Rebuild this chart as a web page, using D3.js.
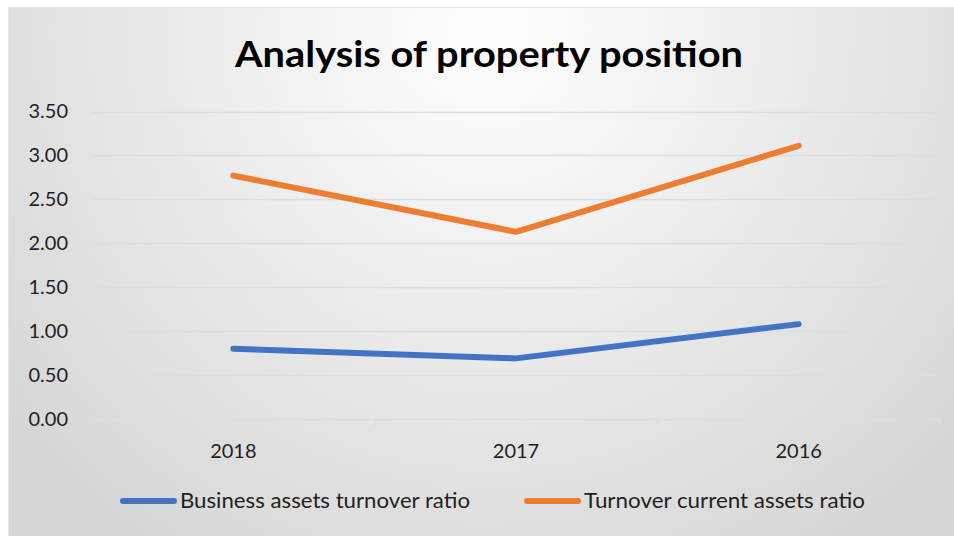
<!DOCTYPE html>
<html><head><meta charset="utf-8">
<script src="https://cdn.jsdelivr.net/npm/d3@7"></script>
<style>html,body{margin:0;padding:0;background:#fff;overflow:hidden}</style>
</head><body>
<svg id="c" width="954" height="536"></svg>
<script>
const title = "Analysis of property position";
const categories = ["2018", "2017", "2016"];
const seriesNames = ["Business assets turnover ratio", "Turnover current assets ratio"];
const businessAssets = [0.80, 0.69, 1.08];
const currentAssets = [2.77, 2.13, 3.11];
const yTicks = [0, 0.5, 1, 1.5, 2, 2.5, 3, 3.5];
const colors = ["#4472c4", "#ed7d31"];

const svg = d3.select("#c");
const W = 954, H = 536;
const font = "Lato, 'Open Sans', sans-serif";

const defs = svg.append("defs");
const rg = defs.append("radialGradient").attr("id", "bg")
  .attr("gradientUnits", "userSpaceOnUse")
  .attr("cx", 490).attr("cy", 30).attr("r", 620);
rg.append("stop").attr("offset", "0%").attr("stop-color", "#ffffff");
rg.append("stop").attr("offset", "100%").attr("stop-color", "#d6d6d6");

svg.append("rect").attr("x", 8.5).attr("y", 7.5).attr("width", W - 8).attr("height", H - 7)
  .attr("fill", "url(#bg)").attr("stroke", "#e4e8ee").attr("stroke-width", 1);

svg.append("text").attr("x", 489).attr("y", 67).attr("text-anchor", "middle")
  .attr("font-family", font).attr("font-weight", "bold").attr("font-size", 36)
  .attr("fill", "#000").attr("textLength", 508).attr("lengthAdjust", "spacingAndGlyphs")
  .text(title);

const x = d3.scaleBand().domain(categories).range([92, 940]);
const y = d3.scaleLinear().domain([0, 3.5]).range([419, 111.5]);

// gridlines
const grid = svg.append("g");
grid.selectAll("line").data(yTicks.filter(d => d > 0)).join("line")
  .attr("x1", 92).attr("x2", 940)
  .attr("y1", d => Math.round(y(d)) + 0.5).attr("y2", d => Math.round(y(d)) + 0.5)
  .attr("stroke", "#d8dee7").attr("stroke-width", 1.5);

// y axis labels
const yAxis = d3.axisLeft(y).tickValues(yTicks).tickFormat(d3.format(".2f")).tickSize(0).tickPadding(0);
const gy = svg.append("g").attr("transform", "translate(68,0)").call(yAxis);
gy.select(".domain").remove();
gy.selectAll("text").attr("font-family", font).attr("font-size", 20).attr("fill", "#1f1f1f");

// x axis
const xAxis = d3.axisBottom(x).tickSize(0).tickPadding(0);
const gx = svg.append("g").attr("transform", `translate(0,${Math.round(y(0)) + 0.5})`).call(xAxis);
gx.select(".domain").attr("stroke", "#d8dee7").attr("stroke-width", 1.5)
  .attr("d", `M92,7V0H940V7`);
gx.selectAll("text").attr("dy", 0).attr("y", 38)
  .attr("font-family", font).attr("font-size", 20).attr("fill", "#1f1f1f");
const bounds = x.domain().map(d => x(d)).slice(1);
gx.selectAll("line.bt").data(bounds).join("line").attr("class", "bt")
  .attr("x1", d => d).attr("x2", d => d).attr("y1", 0).attr("y2", 7)
  .attr("stroke", "#d8dee7").attr("stroke-width", 1.5);

// lines
const line = d3.line().x((d, i) => x(categories[i]) + x.bandwidth() / 2).y(d => y(d));
[businessAssets, currentAssets].forEach((s, i) => {
  svg.append("path").datum(s).attr("d", line).attr("fill", "none")
    .attr("stroke", colors[i]).attr("stroke-width", 6)
    .attr("stroke-linecap", "round").attr("stroke-linejoin", "round");
});

// legend
const legendItems = [{x: 120, tx: 180, w: 290}, {x: 524, tx: 584, w: 281}];
seriesNames.forEach((n, i) => {
  const it = legendItems[i];
  svg.append("line").attr("x1", it.x + 3).attr("x2", it.x + 54).attr("y1", 501).attr("y2", 501)
    .attr("stroke", colors[i]).attr("stroke-width", 6).attr("stroke-linecap", "round");
  svg.append("text").attr("x", it.tx).attr("y", 508)
    .attr("font-family", font).attr("font-size", 21).attr("fill", "#1f1f1f")
    .attr("textLength", it.w).attr("lengthAdjust", "spacingAndGlyphs")
    .text(n);
});
</script>
</body></html>
